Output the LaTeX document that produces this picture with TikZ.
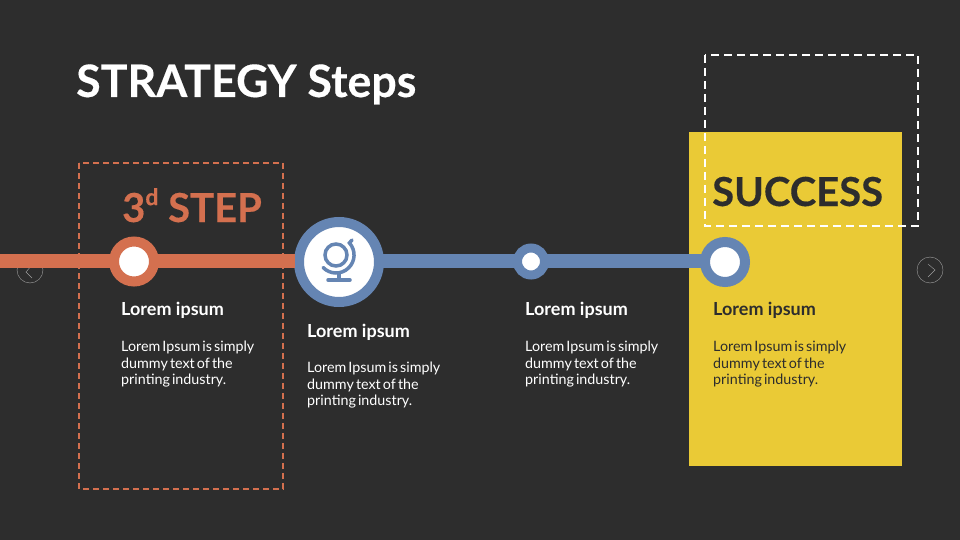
\documentclass[tikz,border=0pt]{standalone}
\usepackage{fontspec}
\setmainfont{Lato}
\newfontfamily\heavyfont[BoldFeatures={FakeBold=0.3}]{Lato}
\definecolor{darkbg}{HTML}{2D2D2D}
\definecolor{rust}{HTML}{D4704F}
\definecolor{steel}{HTML}{6585B3}
\definecolor{sun}{HTML}{EACA36}
\definecolor{navgrey}{HTML}{A0A0A0}
\begin{document}
\begin{tikzpicture}[x=1pt,y=-1pt,
  ring/.style={circle,fill=white,draw=#1,inner sep=0pt,outer sep=0pt},
  head/.style={font=\fontsize{18}{20}\selectfont\bfseries,anchor=west,inner sep=0pt},
  body/.style={font=\fontsize{14.3}{16.5}\selectfont\spaceskip 2.1pt\relax,anchor=north west,align=left,inner sep=0pt,text=#1},
  step title/.style={font=\heavyfont\fontsize{40}{42}\selectfont\bfseries,anchor=base west,inner sep=0pt},
  nav/.style={circle,draw=navgrey,thin,minimum size=26pt,inner sep=0pt}]

\fill[darkbg] (0,0) rectangle (960,540);
\useasboundingbox (0,0) rectangle (960,540);

\node[font=\heavyfont\fontsize{44.7}{48}\selectfont\bfseries,text=white,anchor=base west,inner sep=0pt] (title) at (76,97) {STRATEGY Steps};

% arrows left and right
\node[nav] (navleft) at (30,270) {};
\node[nav] (navright) at (930,270) {};
\draw[navgrey,thin] (32,265) -- (26,272) -- (32,278);
\draw[navgrey,thin] (928,264) -- (935,270) -- (928,277);

% boxes
\fill[sun] (689,132) rectangle (902,466);
\draw[rust,line width=1.5pt,dash pattern=on 6pt off 4pt] (79,163) rectangle (283,489);
\draw[white,line width=2pt,dash pattern=on 8pt off 5pt] (705,55) rectangle (918,226);

\node[step title,text=rust] (thirdstep) at (122,222) {3\raisebox{0.42em}{\fontsize{23}{23}\selectfont d} STEP};
\node[step title,text=darkbg] (success) at (712,206) {SUCCESS};

% timeline
\coordinate (start) at (0,260.5);
\node[ring=rust,line width=10pt,minimum size=40pt] (dota) at (134,261.5) {};
\node[ring=steel,line width=10pt,minimum size=80pt] (globe) at (339,262) {};
\node[ring=steel,line width=9pt,minimum size=27pt] (dotb) at (531,261.5) {};
\node[ring=steel,line width=10pt,minimum size=40pt] (dotc) at (725,262) {};
\draw[rust,line width=14pt] (start) -- (start -| dota.west);
\draw[rust,line width=14pt] (start -| dota.east) -- ([xshift=-4.5pt]start -| globe.west);
\draw[steel,line width=14pt] (start -| globe.east) -- (start -| dotb.west);
\draw[steel,line width=14pt] (start -| dotb.east) -- (start -| dotc.west);

% globe icon
\draw[steel,line width=3.5pt] (336,255) circle (11);
\draw[steel,line width=3.5pt,line cap=round] (323.1,267.5) arc[start angle=136,end angle=-42,radius=18] -- (352,240);
\draw[steel,line width=3.5pt] (339,272) -- (339,280);
\draw[steel,line width=3.5pt,line cap=round] (328,280) -- (350,280);

% texts
\node[head,text=white] (heada) at (121,310) {Lorem ipsum};
\node[body=white] (texta) at (121,341) {Lorem Ipsum is simply\\dummy text of the\\printing industry.};
\node[head,text=white] (headb) at (307,332) {Lorem ipsum};
\node[body=white] (textb) at (307,362) {Lorem Ipsum is simply\\dummy text of the\\printing industry.};
\node[head,text=white] (headc) at (525,310) {Lorem ipsum};
\node[body=white] (textc) at (525,341) {Lorem Ipsum is simply\\dummy text of the\\printing industry.};
\node[head,text=darkbg] (headd) at (713,310) {Lorem ipsum};
\node[body=darkbg] (textd) at (713,341) {Lorem Ipsum is simply\\dummy text of the\\printing industry.};
\end{tikzpicture}
\end{document}
